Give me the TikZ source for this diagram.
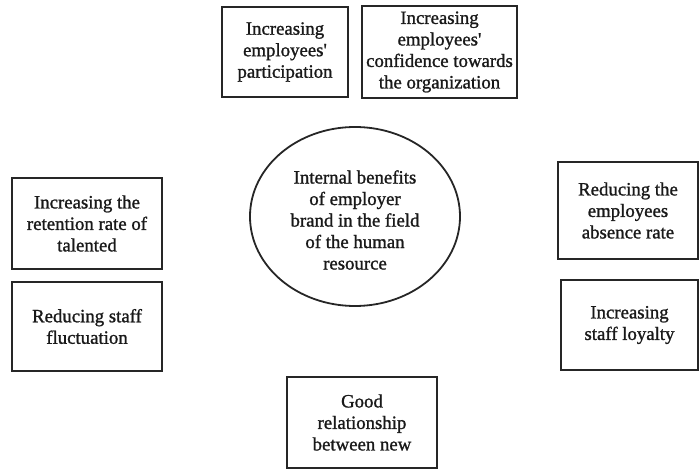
\documentclass[tikz,border=0pt]{standalone}
\usepackage{fontspec}
\setmainfont{Liberation Serif}
\newfontfamily\heavyserif[FakeBold=1.2]{Liberation Serif}
\usetikzlibrary{shapes.geometric}
\newcommand{\apos}{\symbol{39}}
\begin{document}
\begin{tikzpicture}[x=1pt,y=-1pt,
  txt/.style={font=\heavyserif\fontsize{18.8}{21.5}\selectfont, align=center, text=black!90},
  box/.style={txt, draw=black!85, line width=2.2pt, rectangle, inner sep=0pt},
  oval/.style={txt, draw=black!85, line width=1.8pt, ellipse, inner sep=0pt}]
\useasboundingbox (0,0) rectangle (699,470);
\node[box, minimum width=126, minimum height=90] (p1) at (285,52) {Increasing\\employees\apos\\participation};
\node[box, minimum width=155, minimum height=92] (p2) at (439.5,52) {Increasing\\employees\apos\\confidence towards\\the organization};
\node[box, minimum width=150, minimum height=91] (l1) at (87,223.5) {Increasing the\\retention rate of\\talented};
\node[box, minimum width=150, minimum height=89] (l2) at (87,326.5) {Reducing staff\\fluctuation};
\node[box, minimum width=140, minimum height=97] (r1) at (628,210.5) {Reducing the\\employees\\absence rate};
\node[box, minimum width=137, minimum height=90] (r2) at (629.5,325) {Increasing\\staff loyalty};
\node[oval, minimum width=210, minimum height=179] (e) at (355,216.5) {};
\node[txt] (et) at (355,220) {Internal benefits\\of employer\\brand in the field\\of the human\\resource};
\node[box, minimum width=150, minimum height=91] (b) at (362,422.5) {Good\\relationship\\between new};
\end{tikzpicture}
\end{document}
